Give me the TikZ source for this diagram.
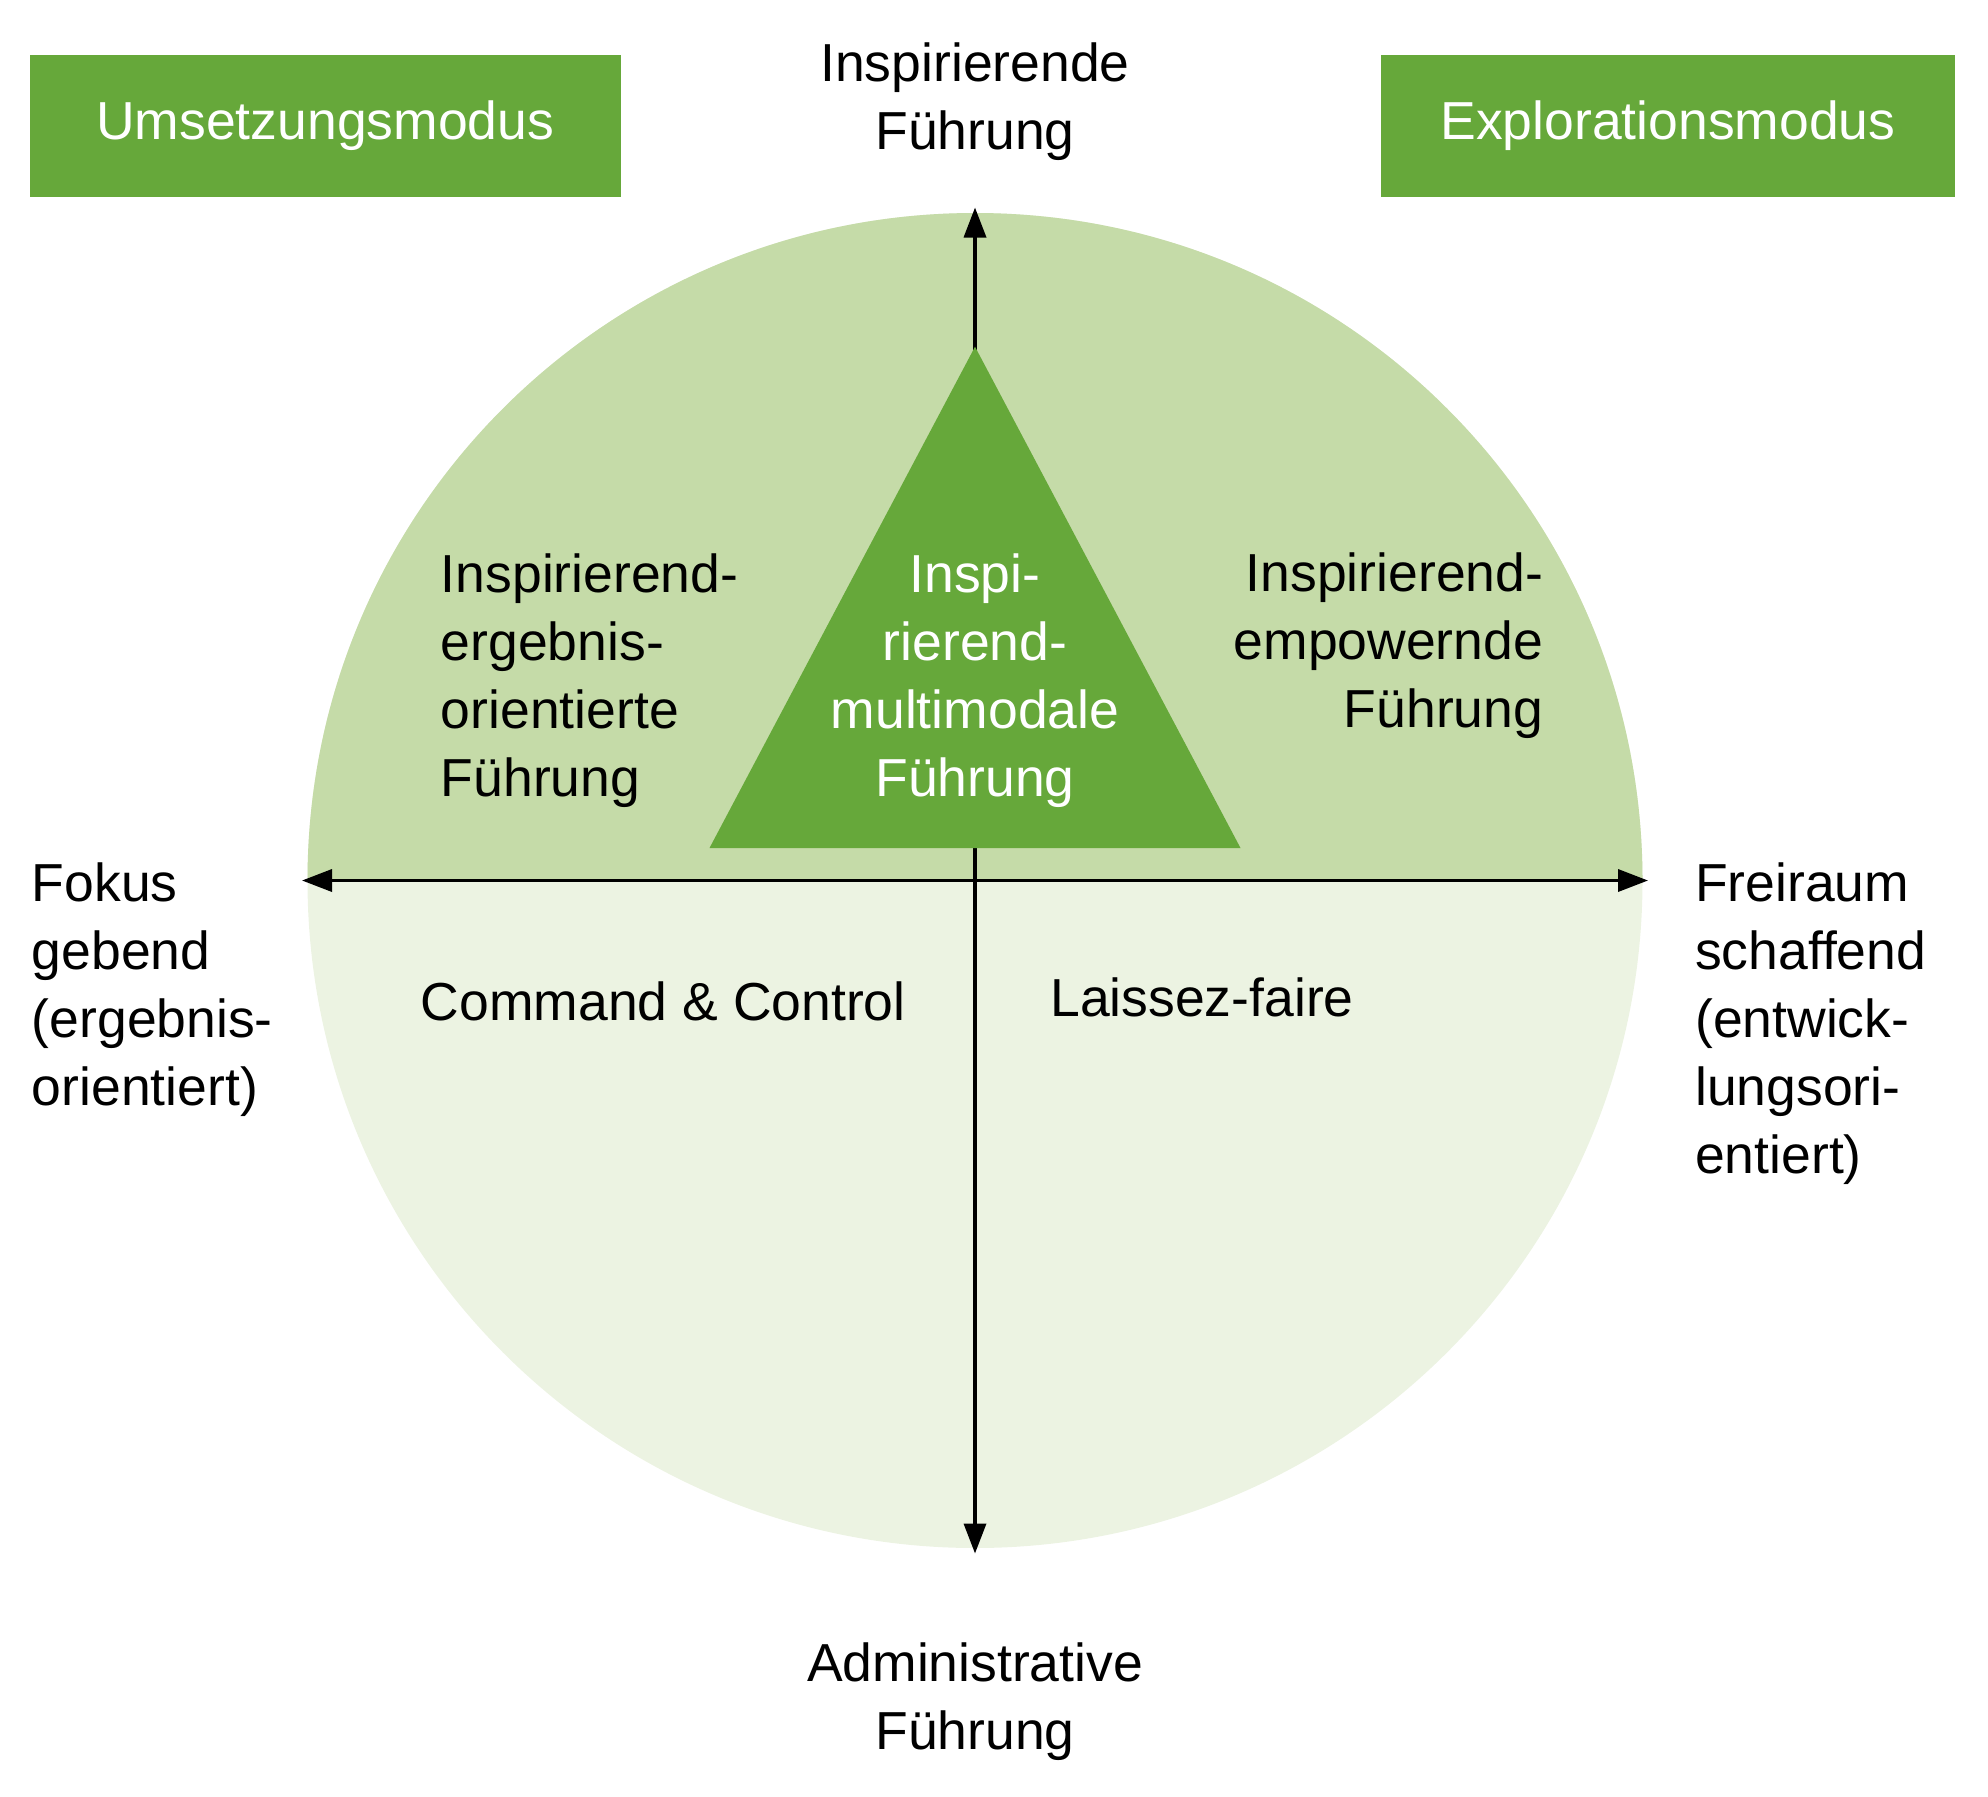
\documentclass[tikz,border=0pt]{standalone}
\usepackage{fontspec}
\setmainfont{Liberation Sans}
\usetikzlibrary{arrows.meta}

\definecolor{leafgreen}{RGB}{102,168,58}
\definecolor{palegreen}{RGB}{197,219,168}
\definecolor{mistgreen}{RGB}{236,243,226}

\tikzset{
  lbl/.style={inner sep=0pt, font=\fontsize{53.5}{68}\selectfont, align=left},
  modebox/.style={fill=leafgreen, text=white, inner sep=0pt,
    minimum height=141.7pt, font=\fontsize{53.5}{68}\selectfont},
  axis/.style={line width=3.5pt, >={Triangle[length=30pt,width=22pt]}, <->}
}

\begin{document}
\begin{tikzpicture}[x=1pt,y=-1pt]
	\useasboundingbox (0,0) rectangle (1988,1796);
	
	\coordinate (O) at (975,880.5);
	\coordinate (L) at (302,880.5);
	\coordinate (R) at (1648,880.5);
	\coordinate (T) at (975,207.5);
	\coordinate (B) at (975,1553.5);
	\coordinate (apex) at (975,346.7);
	\coordinate (bl) at (709.5,848);
	\coordinate (br) at (1240.5,848);
	
	% disc, upper half darker
	\fill[mistgreen] (O) circle [radius=667.5pt];
	\fill[palegreen] (307.5,880.5) arc [start angle=180, end angle=0, radius=667.5pt] -- cycle;
	
	\draw[axis] (B) -- (T);
	\fill[leafgreen] (apex) -- (bl) -- (br) -- cycle;
	\draw[axis] (L) -- (R);
	
	\node[modebox, minimum width=590.5pt] (umsetzung) at (325.25,125.85) {Umsetzungsmodus};
	\node[modebox, minimum width=574.4pt] (exploration) at (1667.9,125.85) {Explorationsmodus};
	
	% base = baseline of the last line
	\node[lbl, anchor=base, align=center] (inspirierende) at (975,149.5) {Inspirierende\\Führung};
	\node[lbl, anchor=base, align=center] (administrative) at (975,1749) {Administrative\\Führung};
	\node[lbl, anchor=base west] (fokus) at (31.7,1105) {Fokus\\gebend\\(ergebnis-\\orientiert)};
	\node[lbl, anchor=base west] (freiraum) at (1695,1173.5) {Freiraum\\schaffend\\(entwick-\\lungsori-\\entiert)};
	
	\node[lbl, anchor=base west] (ergebnis) at (440.7,796.5) {Inspirierend-\\ergebnis-\\orientierte\\Führung};
	\node[lbl, anchor=base east, align=right] (empower) at (1543.3,727.5) {Inspirierend-\\empowernde\\Führung};
	\node[lbl, anchor=base, align=center, text=white] (multi) at (975,796.5) {Inspi-\\rierend-\\multimodale\\Führung};
	
	\node[lbl, anchor=base] (command) at (663.3,1020) {Command \& Control};
	\node[lbl, anchor=base] (laissez) at (1202,1016) {Laissez-faire};
	
\end{tikzpicture}
\end{document}
